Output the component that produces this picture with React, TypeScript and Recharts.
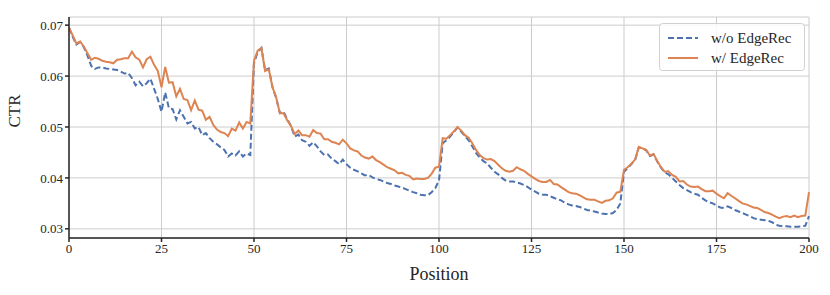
import React from 'react';
import { LineChart, Line, XAxis, YAxis, CartesianGrid, Legend } from 'recharts';

// CTR per position
const withoutEdgeRec = [
  0.0695, 0.0677, 0.0662, 0.0667, 0.0657, 0.0640, 0.0620, 0.0614, 0.0617, 0.0617,
  0.0615, 0.0614, 0.0613, 0.0612, 0.0609, 0.0605, 0.0606, 0.0596, 0.0582, 0.0589,
  0.0580, 0.0586, 0.0595, 0.0575, 0.0555, 0.0530, 0.0568, 0.0537, 0.0535, 0.0515,
  0.0533, 0.0520, 0.0507, 0.0510, 0.0497, 0.0500, 0.0484, 0.0488, 0.0478, 0.0471,
  0.0466, 0.0460, 0.0455, 0.0442, 0.0448, 0.0444, 0.0452, 0.0442, 0.0448, 0.0445,
  0.0625, 0.0647, 0.0655, 0.0612, 0.0615, 0.0578, 0.0557, 0.0527, 0.0530, 0.0515,
  0.0502, 0.0481, 0.0485, 0.0474, 0.0471, 0.0463, 0.0470, 0.0462, 0.0452, 0.0445,
  0.0446, 0.0438, 0.0433, 0.0427, 0.0436, 0.0427, 0.0420, 0.0416, 0.0413, 0.0409,
  0.0405, 0.0406, 0.0401, 0.0398, 0.0396, 0.0393, 0.0390, 0.0388, 0.0385, 0.0383,
  0.0381, 0.0378, 0.0375, 0.0372, 0.0370, 0.0367, 0.0366, 0.0366, 0.0372, 0.0380,
  0.0395, 0.0468, 0.0474, 0.0481, 0.0490, 0.0499, 0.0491, 0.0482, 0.0474, 0.0462,
  0.0449, 0.0440, 0.0433, 0.0429, 0.0420, 0.0412, 0.0407, 0.0400, 0.0395, 0.0393,
  0.0393, 0.0391, 0.0389, 0.0386, 0.0382, 0.0377, 0.0373, 0.0369, 0.0367, 0.0367,
  0.0364, 0.0361, 0.0358, 0.0356, 0.0351, 0.0348, 0.0346, 0.0345, 0.0343, 0.0340,
  0.0337, 0.0336, 0.0334, 0.0332, 0.0330, 0.0329, 0.0329, 0.0331, 0.0337, 0.0350,
  0.0412, 0.0419, 0.0427, 0.0435, 0.0460, 0.0458, 0.0454, 0.0443, 0.0446, 0.0432,
  0.0420, 0.0411, 0.0407, 0.0400, 0.0393, 0.0386, 0.0380, 0.0376, 0.0372, 0.0369,
  0.0367, 0.0361, 0.0356, 0.0352, 0.0350, 0.0346, 0.0342, 0.0341, 0.0344, 0.0341,
  0.0337, 0.0334, 0.0331, 0.0328, 0.0325, 0.0321, 0.0319, 0.0318, 0.0317, 0.0316,
  0.0313, 0.0308, 0.0306, 0.0305, 0.0305, 0.0304, 0.0304, 0.0304, 0.0305, 0.0306,
  0.0325,
];

const withEdgeRec = [
  0.0695, 0.0680, 0.0664, 0.0668, 0.0658, 0.0645, 0.0632, 0.0636, 0.0634, 0.0630,
  0.0628, 0.0627, 0.0625, 0.0632, 0.0633, 0.0635, 0.0635, 0.0648, 0.0637, 0.0632,
  0.0617, 0.0633, 0.0638, 0.0622, 0.0610, 0.0578, 0.0618, 0.0587, 0.0588, 0.0560,
  0.0575, 0.0555, 0.0553, 0.0533, 0.0552, 0.0534, 0.0532, 0.0514, 0.0520, 0.0504,
  0.0495, 0.0490, 0.0488, 0.0482, 0.0497, 0.0493, 0.0509, 0.0497, 0.0510, 0.0507,
  0.0630, 0.0650, 0.0655, 0.0610, 0.0613, 0.0578, 0.0558, 0.0527, 0.0527, 0.0513,
  0.0502, 0.0486, 0.0493, 0.0484, 0.0484, 0.0481, 0.0494, 0.0488, 0.0487, 0.0476,
  0.0476, 0.0471, 0.0469, 0.0466, 0.0475, 0.0468, 0.0458, 0.0454, 0.0452, 0.0444,
  0.0440, 0.0438, 0.0442, 0.0435, 0.0431, 0.0426, 0.0421, 0.0418, 0.0415, 0.0409,
  0.0410, 0.0406, 0.0404, 0.0397, 0.0399, 0.0398, 0.0398, 0.0400, 0.0408, 0.0420,
  0.0422, 0.0478, 0.0477, 0.0484, 0.0491, 0.0500, 0.0493, 0.0484, 0.0479, 0.0468,
  0.0455, 0.0445, 0.0439, 0.0436, 0.0437, 0.0433, 0.0426, 0.0419, 0.0414, 0.0412,
  0.0414, 0.0421, 0.0417, 0.0414, 0.0408, 0.0403, 0.0398, 0.0394, 0.0392, 0.0392,
  0.0396, 0.0388, 0.0387, 0.0382, 0.0377, 0.0372, 0.0370, 0.0369, 0.0366, 0.0362,
  0.0358, 0.0357, 0.0357, 0.0354, 0.0351, 0.0355, 0.0356, 0.0360, 0.0371, 0.0373,
  0.0416, 0.0421, 0.0428, 0.0436, 0.0461, 0.0458, 0.0455, 0.0444, 0.0447, 0.0433,
  0.0421, 0.0412, 0.0413, 0.0406, 0.0402, 0.0393, 0.0394, 0.0387, 0.0383, 0.0382,
  0.0383, 0.0378, 0.0374, 0.0374, 0.0375, 0.0369, 0.0364, 0.0360, 0.0370, 0.0365,
  0.0360, 0.0355, 0.0350, 0.0348, 0.0345, 0.0342, 0.0341, 0.0337, 0.0333, 0.0331,
  0.0328, 0.0324, 0.0321, 0.0324, 0.0325, 0.0323, 0.0326, 0.0323, 0.0325, 0.0326,
  0.0372,
];

const xTicks = [0, 25, 50, 75, 100, 125, 150, 175, 200];
const yTicks = [0.03, 0.04, 0.05, 0.06, 0.07];

const data = withoutEdgeRec.map((v, i) => ({ pos: i, wo: v, w: withEdgeRec[i] }));

const FONT = 'Liberation Serif, DejaVu Serif, serif';
const AXIS = '#262626';
const BLUE = '#4c72b0';
const ORANGE = '#dd8452';

const legendItems = [
  { label: 'w/o EdgeRec', color: BLUE, dash: '6 3' },
  { label: 'w/ EdgeRec', color: ORANGE, dash: undefined },
];

// legend drawn as svg so it uses the same text rendering as the axes
const LegendBox = () => (
  <svg width={146} height={48}>
    <rect x={0.5} y={0.5} width={145} height={47} rx={3} fill="#ffffff" fillOpacity={0.85} stroke="#d0d0d0" />
    {legendItems.map((e, i) => (
      <g key={e.label}>
        <line x1={9} y1={15 + i * 20} x2={39} y2={15 + i * 20} stroke={e.color} strokeWidth={2} strokeDasharray={e.dash} />
        <text x={52} y={20 + i * 20} fontFamily={FONT} fontSize={15} fill={AXIS}>
          {e.label}
        </text>
      </g>
    ))}
  </svg>
);

const App: React.FC = () => {
  return (
    <div style={{ width: 830, height: 295, position: 'absolute', left: 0, top: 0, background: '#fff' }}>
      <LineChart
        width={830}
        height={295}
        data={data}
        margin={{ top: 17, right: 21, bottom: 17, left: 0 }}
      >
        <CartesianGrid stroke="#cccccc" strokeWidth={1} />
        <XAxis
          dataKey="pos"
          type="number"
          domain={[0, 200]}
          ticks={xTicks}
          height={40}
          stroke={AXIS}
          strokeWidth={1.5}
          tickSize={4}
          tick={{ fill: AXIS, fontFamily: FONT, fontSize: 13 }}
          label={{ value: 'Position', position: 'insideBottom', offset: -2, fill: AXIS, fontFamily: FONT, fontSize: 18 }}
        />
        <XAxis
          xAxisId="top"
          orientation="top"
          dataKey="pos"
          type="number"
          domain={[0, 200]}
          height={0}
          tick={false}
          tickLine={false}
          stroke={AXIS}
          strokeWidth={1.5}
        />
        <YAxis
          type="number"
          domain={[0.0282, 0.0716]}
          ticks={yTicks}
          width={69}
          stroke={AXIS}
          strokeWidth={1.5}
          tickSize={4}
          tickFormatter={(v: number) => v.toFixed(2)}
          tick={{ fill: AXIS, fontFamily: FONT, fontSize: 13 }}
          label={{ value: 'CTR', angle: -90, position: 'insideLeft', offset: 14, fill: AXIS, fontFamily: FONT, fontSize: 17 }}
          allowDataOverflow
        />
        <YAxis
          yAxisId="right"
          orientation="right"
          type="number"
          domain={[0.0282, 0.0716]}
          width={0}
          tick={false}
          tickLine={false}
          stroke={AXIS}
          strokeWidth={1.5}
        />
        <Legend
          layout="vertical"
          align="center"
          verticalAlign="middle"
          content={<LegendBox />}
          wrapperStyle={{ top: 23, left: 659, width: 146, height: 48 }}
        />
        <Line
          type="linear"
          dataKey="wo"
          name="w/o EdgeRec"
          stroke={BLUE}
          strokeWidth={2}
          strokeDasharray="6 3"
          dot={false}
          isAnimationActive={false}
        />
        <Line
          type="linear"
          dataKey="w"
          name="w/ EdgeRec"
          stroke={ORANGE}
          strokeWidth={2}
          dot={false}
          isAnimationActive={false}
        />
      </LineChart>
    </div>
  );
};

export default App;
